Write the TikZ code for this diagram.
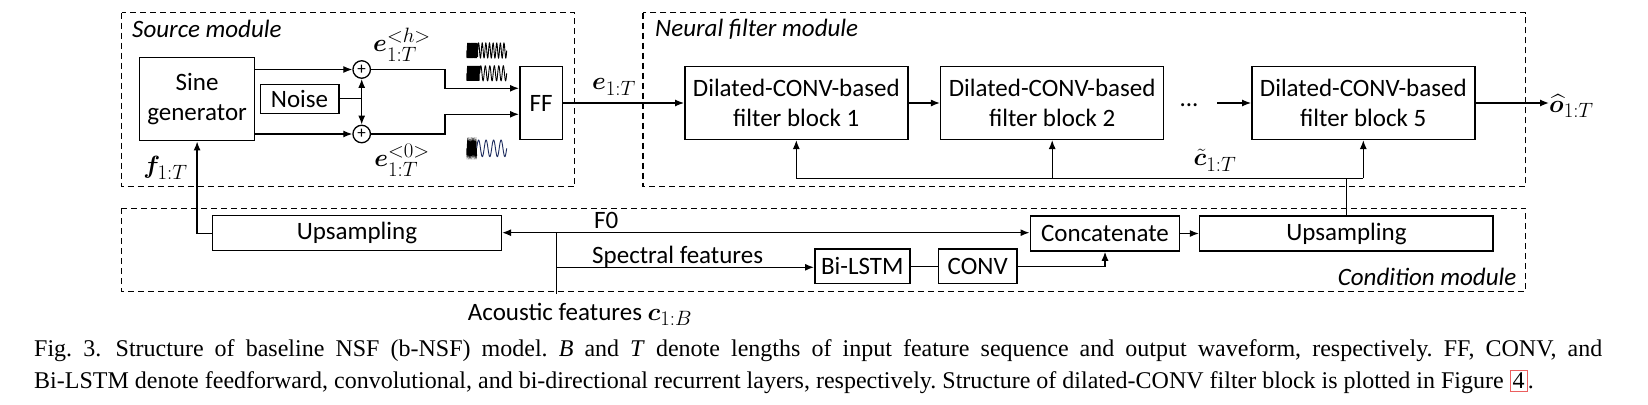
\documentclass[tikz,border=0pt]{standalone}
\usepackage{amsmath}
\usepackage{bm}
\usepackage{fontspec}
\setmainfont{Carlito}
\newfontfamily\capfont{Liberation Serif}
\usepackage{xcolor}
\usetikzlibrary{arrows.meta,calc}
\definecolor{linkred}{RGB}{235,95,95}
\definecolor{wavenavy}{RGB}{30,45,95}
\DeclareMathSizes{27}{27}{22}{17}
\frenchspacing
\newcommand{\mlbl}[1]{{\fontsize{27}{30}\selectfont$#1$}}
\begin{document}
\begin{tikzpicture}[x=1pt,y=-1pt,
  txt/.style={font=\fontsize{25}{30}\selectfont, inner sep=0pt},
  mth/.style={font=\fontsize{27}{30}\selectfont, inner sep=0pt},
  blk/.style={draw, line width=1.5pt, align=center, inner sep=0pt, font=\fontsize{25}{30}\selectfont},
  modbox/.style={draw, dash pattern=on 6pt off 4pt, line width=1.3pt},
  conn/.style={line width=1.3pt},
  arr/.style={conn, -{Latex[length=9pt,width=7pt]}},
  adder/.style={draw, circle, line width=1.3pt, minimum size=17.5pt, inner sep=0pt, font=\fontsize{17}{17}\selectfont},
  modlabel/.style={font=\fontsize{25}{30}\selectfont\itshape, inner sep=0pt},
  wave/.style={line width=0.9pt},
  captxt/.style={font=\capfont\fontsize{24}{30}\selectfont, inner sep=0pt, anchor=base west},
]
\useasboundingbox (0,0) rectangle (1648,404);
\fill[white] (0,0) rectangle (1648,404);

% module frames
\draw[modbox] (121.7,12.7) rectangle (574.8,186.7);
\draw[modbox] (643,12.7) rectangle (1525.7,186.7);
\draw[modbox] (121.7,208.3) rectangle (1525.7,291.7);
\node[modlabel, anchor=base west] (lsrc) at (132,37.3) {Source module};
\node[modlabel, anchor=base west] (lnf) at (655,36.7) {Neural filter module};
\node[modlabel, anchor=base east] (lcond) at (1516.6,285) {Condition module};

% source module
\node[blk, minimum width=114.8pt, minimum height=83pt] (sine) at (197.1,99.2) {Sine\\generator};
\node[blk, minimum width=78.5pt, minimum height=29pt] (noise) at (299.5,98.8) {Noise};
\node[adder] (p1) at (361.7,69.5) {+};
\node[adder] (p2) at (361.7,134) {+};
\node[blk, minimum width=42.9pt, minimum height=72.6pt] (ff) at (541.2,103) {FF};

\draw[arr] (sine.east |- p1) -- (p1);
\draw[arr] (sine.east |- p2) -- (p2);
\coordinate (nj) at (p1 |- noise.east);
\draw[conn] (noise.east) -- (nj);
\draw[arr] (nj) -- (p1);
\draw[arr] (nj) -- (p2);
\coordinate (hk) at (445,88.3);
\coordinate (zk) at (445,114.3);
\draw[arr] (p1) -- (p1 -| hk) -- (hk) -- (hk -| ff.west);
\draw[arr] (p2) -- (p2 -| zk) -- (zk) -- (zk -| ff.west);

\node[mth] (eh) at (402,45) {$\bm{e}_{1:T}^{<h>}$};
\node[mth] (e0) at (402,160) {$\bm{e}_{1:T}^{<0>}$};
\node[mth] (f) at (165.5,168) {$\bm{f}_{1:T}$};

% waveform icons
\draw[wave] plot[domain=0:11,samples=111] ({466.7+\x},{50.5+7.5*sin(\x*300)});
\draw[wave] plot[domain=0:29,samples=200] ({477.7+\x},{50.5-7.5*sin(\x*99.3)});
\draw[wave] plot[domain=0:13,samples=131] ({466.7+\x},{73.3+7.5*sin(\x*300)});
\draw[wave] plot[domain=0:27,samples=200] ({479.7+\x},{73.3-7.5*sin(\x*80)});
\draw[wave] plot[domain=0:10,samples=101] ({466.7+\x},{148.3+7*sin(\x*300)});
\draw[wave, wavenavy] plot[domain=0:30,samples=200] ({476.7+\x},{148.3-8.3*sin(\x*48)});

% neural filter module
\node[mth] (e) at (614,87) {$\bm{e}_{1:T}$};
\node[blk, minimum width=223pt, minimum height=72.6pt] (b1) at (796.3,103) {Dilated-CONV-based\\filter block 1};
\node[blk, minimum width=223pt, minimum height=72.6pt] (b2) at (1052.2,103) {Dilated-CONV-based\\filter block 2};
\node[blk, minimum width=223pt, minimum height=72.6pt] (b5) at (1363.3,103) {Dilated-CONV-based\\filter block 5};
\draw[arr] (ff) -- (b1);
\draw[arr] (b1) -- (b2);
\node[txt, anchor=base] (dots) at (1189,106) {...};
\coordinate (d5) at (1217,103);
\draw[arr] (d5) -- (b5);
\node[mth, anchor=west] (out) at (1549,106) {$\widehat{\bm{o}}_{1:T}$};
\draw[arr] (b5.east) -- (b5.east -| out.west);
\node[mth] (ct) at (1215,160) {$\tilde{\bm{c}}_{1:T}$};

% condition module
\node[blk, minimum width=288.9pt, minimum height=35pt] (upL) at (356.9,233.2) {Upsampling};
\node[blk, minimum width=149.4pt, minimum height=35pt] (cat) at (1105,233.5) {Concatenate};
\node[blk, minimum width=293.6pt, minimum height=35pt] (upR) at (1346.4,233.5) {Upsampling};
\node[blk, minimum width=95pt, minimum height=34.3pt] (lstm) at (862.3,266.2) {Bi-LSTM};
\node[blk, minimum width=78.5pt, minimum height=34.3pt] (conv) at (977.7,266.2) {CONV};
\node[txt, anchor=base west] (ac) at (467.7,320) {Acoustic features \mlbl{\bm{c}_{1:B}}};
\node[txt, anchor=base west] (f0) at (594,228.3) {F0};
\node[txt, anchor=base west] (spf) at (592,263.3) {Spectral features};

\coordinate (acin) at (556.8,294);
\coordinate (j1) at (556.8,232.7);
\coordinate (j2) at (556.8,267.3);
\draw[conn] (acin) -- (j1);
\draw[arr] (j1) -- (upL.east |- j1);
\draw[arr] (j1) -- (cat.west |- j1);
\draw[arr] (j2) -- (lstm.west |- j2);
\draw[conn] (lstm) -- (conv);
\draw[arr] (conv.east) -| (cat.south);
\draw[arr] (cat) -- (upR);
\draw[arr] (upL.west) -| (sine.south);

% feedback to filter blocks
\coordinate (fby) at (0,178.3);
\draw[conn] (upR.north) -- (upR.north |- fby);
\draw[conn] (b1.south |- fby) -- (b5.south |- fby);
\draw[arr] (b1.south |- fby) -- (b1.south);
\draw[arr] (b2.south |- fby) -- (b2.south);
\draw[arr] (b5.south |- fby) -- (b5.south);

% caption
\node[captxt] (cap1) at (34,356.5) {\makebox[1568pt][s]{Fig.~3.\hspace{0.6em}Structure of baseline NSF (b-NSF) model. \textit{B} and \textit{T} denote lengths of input feature sequence and output waveform, respectively. FF, CONV, and}};
\node[captxt] (cap2) at (34,388.5) {Bi-LSTM denote feedforward, convolutional, and bi-directional recurrent layers, respectively. Structure of dilated-CONV filter block is plotted in Figure {\setlength\fboxsep{2pt}\setlength\fboxrule{1.2pt}\fcolorbox{linkred}{white}{4}}.};
\end{tikzpicture}
\end{document}
